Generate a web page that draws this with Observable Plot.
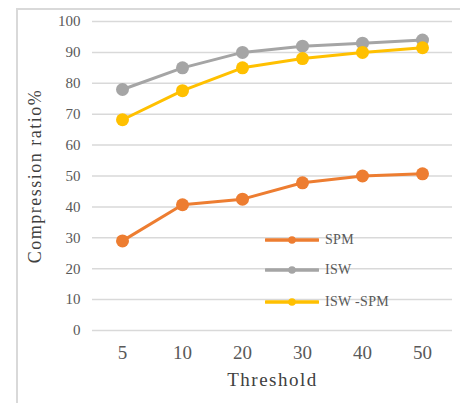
<!DOCTYPE html>
<html><head><meta charset="utf-8">
<script src="https://cdn.jsdelivr.net/npm/d3@7"></script>
<script src="https://cdn.jsdelivr.net/npm/@observablehq/plot@0.6"></script>
<style>
body{margin:0;background:#fff;}
#wrap{position:relative;width:460px;height:403px;overflow:hidden;font-family:"Liberation Serif",serif;}
#frame{position:absolute;left:16px;top:8px;width:460px;height:420px;border-left:2px solid #D9D9D9;border-top:2px solid #D9D9D9;box-sizing:border-box;}
#chart{position:absolute;left:0;top:0;}
#legend{position:absolute;left:265px;top:0;}
.item{position:absolute;left:0;height:16px;display:flex;align-items:center;white-space:nowrap;color:#595959;font-family:"Liberation Serif",serif;font-size:14px;letter-spacing:0.3px;}
.item svg{margin-right:6px;}
</style></head>
<body><div id="wrap"><div id="frame"></div><div id="chart"></div><div id="legend"></div></div>
<script>
const thresholds = ["5","10","20","30","40","50"];
const spm = [29, 40.7, 42.5, 47.8, 50, 50.7];
const isw = [78, 85, 90, 92, 93, 94];
const iswSpm = [68.2, 77.6, 85, 88, 90, 91.5];
const seriesNames = ["SPM","ISW","ISW -SPM"];
const seriesColors = ["#ED7D31","#A5A5A5","#FFC000"];
const yTicks = [0,10,20,30,40,50,60,70,80,90,100];

const seriesValues = [spm, isw, iswSpm];
const data = [];
seriesNames.forEach((s,i)=>thresholds.forEach((t,j)=>data.push({series:s, t, v:seriesValues[i][j]})));

const plot = Plot.plot({
  width:460, height:403,
  marginLeft:92, marginRight:8, marginTop:21, marginBottom:73,
  style:{fontFamily:"Liberation Serif", color:"#595959", background:"transparent"},
  x:{type:"point", domain:thresholds, padding:0.5},
  y:{domain:[0,100]},
  color:{domain:seriesNames, range:seriesColors},
  marks:[
    Plot.ruleY(yTicks, {stroke:"#D9D9D9", strokeWidth:1.5}),
    Plot.axisY({ticks:yTicks, tickSize:0, tickPadding:12, label:null, fontSize:15}),
    Plot.axisX({tickSize:0, tickPadding:15, label:null, fontSize:19}),
    Plot.line(data, {x:"t", y:"v", z:"series", stroke:"series", strokeWidth:3}),
    Plot.dot(data, {x:"t", y:"v", fill:"series", r:6.5}),
    Plot.text(["Threshold"], {frameAnchor:"bottom", dy:55, fontSize:19, fill:"#404040"}),
    Plot.text(["Compression ratio%"], {frameAnchor:"left", textAnchor:"middle", dx:-57, rotate:-90, fontSize:18, fill:"#404040"})
  ]
});
plot.querySelectorAll("text").forEach(t=>{
  t.setAttribute("font-family","Liberation Serif");
  if(t.textContent==="Compression ratio%"||t.textContent==="Threshold") t.setAttribute("letter-spacing","1.5");
});
document.getElementById("chart").appendChild(plot);

const legendY = [240, 270, 302];
const leg = document.getElementById("legend");
seriesNames.forEach((s,i)=>{
  const d = document.createElement("div");
  d.className="item";
  d.style.top=(legendY[i]-8)+"px";
  d.innerHTML = `<svg width="54" height="10"><line x1="1" y1="5" x2="53" y2="5" stroke="${seriesColors[i]}" stroke-width="3.5" stroke-linecap="round"/><circle cx="27" cy="5" r="3.8" fill="${seriesColors[i]}"/></svg><span>${s}</span>`;
  leg.appendChild(d);
});
</script></body></html>
